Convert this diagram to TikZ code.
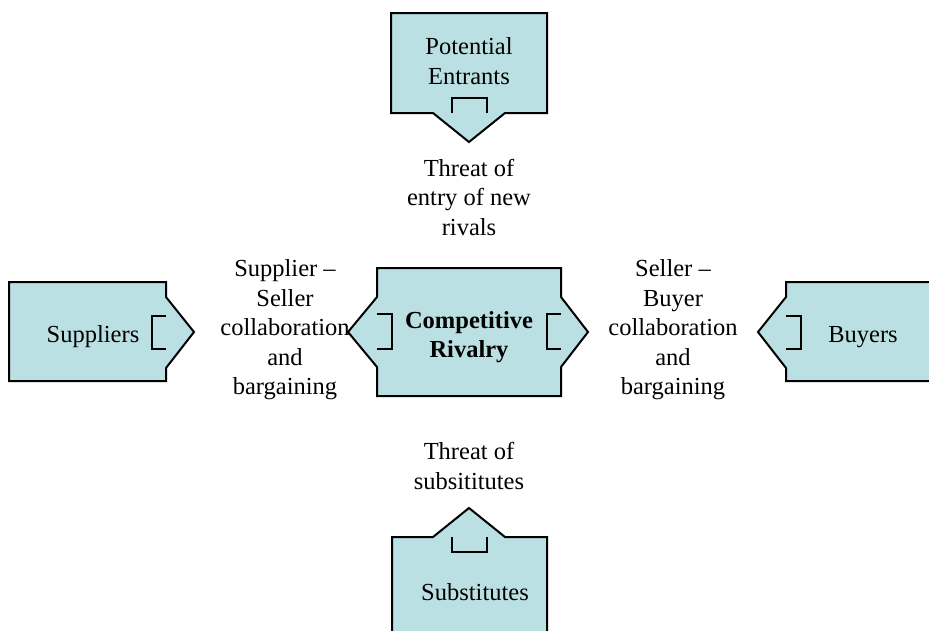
\documentclass[tikz,border=0pt]{standalone}
\usepackage{fontspec}
\setmainfont{Liberation Serif}
\definecolor{boxfill}{RGB}{187,224,227}
\tikzset{
  calloutbox/.style={draw=black, line width=2pt, fill=boxfill, line join=miter},
  notchline/.style={draw=black, line width=2pt, line join=miter},
  lbl/.style={font=\fontsize{24.5}{29.5}\selectfont, align=center, inner sep=0pt},
}
\begin{document}
\begin{tikzpicture}[x=1pt,y=-1pt]
\useasboundingbox (0,0) rectangle (929,630);
\clip (0,0) rectangle (929,630);
% Potential Entrants
\draw[calloutbox] (391,113) -- (391,13) -- (547,13) -- (547,113) -- (505,113) -- (469,142) -- (433,113) -- cycle;
\draw[notchline] (452,113) -- (452,98) -- (487,98) -- (487,113);
% Competitive Rivalry
\draw[calloutbox] (377,268) -- (561,268) -- (561,297) -- (588,332) -- (561,367) -- (561,396) -- (377,396) -- (377,367) -- (348,332) -- (377,297) -- cycle;
\draw[notchline] (377,314) -- (392,314) -- (392,349) -- (377,349);
\draw[notchline] (561,314) -- (547,314) -- (547,349) -- (561,349);
% Suppliers
\draw[calloutbox] (9,282) -- (166,282) -- (166,297) -- (194,332) -- (166,368) -- (166,381) -- (9,381) -- cycle;
\draw[notchline] (166,316) -- (152,316) -- (152,349) -- (166,349);
% Buyers
\draw[calloutbox] (945,282) -- (786,282) -- (786,297) -- (758,332) -- (786,368) -- (786,381) -- (945,381) -- cycle;
\draw[notchline] (786,316) -- (801,316) -- (801,349) -- (786,349);
% Substitutes
\draw[calloutbox] (392,650) -- (392,537) -- (433,537) -- (469,508) -- (505,537) -- (547,537) -- (547,650) -- cycle;
\draw[notchline] (452,537) -- (452,552) -- (487,552) -- (487,537);
% Labels
\node[lbl] (pe) at (469,61) {Potential\\Entrants};
\node[lbl] (te) at (469,197) {Threat of\\entry of new\\rivals};
\node[lbl] (ss) at (285,330) {Supplier \textendash\\Seller\\collaboration\\and\\bargaining};
\node[lbl] (sb) at (673,330) {Seller \textendash\\Buyer\\collaboration\\and\\bargaining};
\node[lbl, font=\fontsize{24.5}{29.5}\selectfont\bfseries] (cr) at (469,337) {Competitive\\Rivalry};
\node[lbl] (su) at (93,337) {Suppliers};
\node[lbl] (bu) at (863,337) {Buyers};
\node[lbl] (ts) at (469,466) {Threat of\\subsititutes};
\node[lbl] (sub) at (475,592) {Substitutes};
\end{tikzpicture}
\end{document}
